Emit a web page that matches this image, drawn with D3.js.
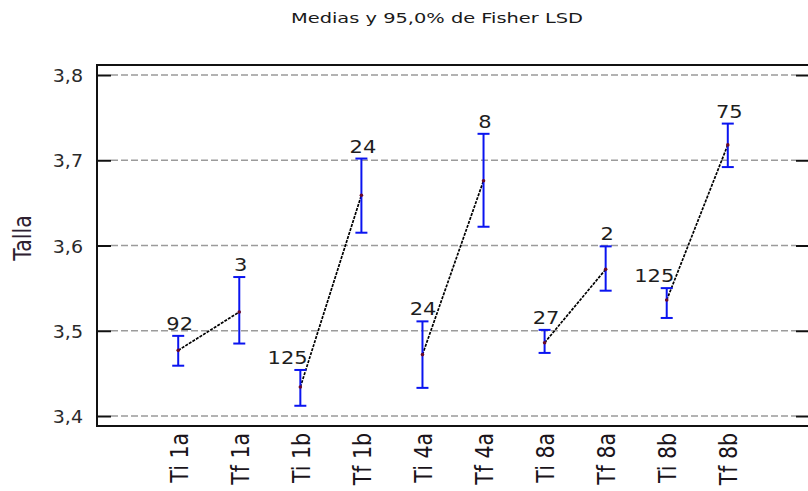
<!DOCTYPE html>
<html>
<head>
<meta charset="utf-8">
<script src="https://cdn.jsdelivr.net/npm/d3@7"></script>
<style>
  html, body { margin: 0; padding: 0; background: #fff; }
  svg { display: block; font-family: "DejaVu Sans", Verdana, sans-serif; }
</style>
</head>
<body>
<svg id="chart" width="808" height="491"></svg>
<script>
// Group means with 95% Fisher LSD intervals
const categories = ["Ti 1a", "Tf 1a", "Ti 1b", "Tf 1b", "Ti 4a", "Tf 4a", "Ti 8a", "Tf 8a", "Ti 8b", "Tf 8b"];
const means = [3.477, 3.522, 3.434, 3.659, 3.472, 3.676, 3.486, 3.572, 3.536, 3.718];
const lower = [3.459, 3.485, 3.412, 3.615, 3.433, 3.622, 3.474, 3.547, 3.515, 3.692];
const upper = [3.494, 3.563, 3.454, 3.702, 3.511, 3.731, 3.501, 3.599, 3.550, 3.743];
const counts = ["92", "3", "125", "24", "24", "8", "27", "2", "125", "75"];
const yTicks = [3.4, 3.5, 3.6, 3.7, 3.8];
const yTickLabels = ["3,4", "3,5", "3,6", "3,7", "3,8"];
const titleText = "Medias y 95,0% de Fisher LSD";
const yTitle = "Talla";

const svg = d3.select("#chart");
const frame = { left: 97, right: 809, top: 65, bottom: 426 };

const x = d3.scalePoint().domain(categories).range([frame.left, frame.right]).padding(1.33);
const y = d3.scaleLinear().domain([3.4, 3.8]).range([416, 75]);

// title
svg.append("text")
  .attr("x", 437).attr("y", 23)
  .attr("text-anchor", "middle")
  .attr("font-size", 13.5)
  .attr("fill", "#1a1a1a")
  .attr("textLength", 292)
  .attr("lengthAdjust", "spacingAndGlyphs")
  .text(titleText);

// dashed horizontal grid
svg.append("g").selectAll("line").data(yTicks).join("line")
  .attr("x1", frame.left + 14).attr("x2", frame.right - 13)
  .attr("y1", d => y(d)).attr("y2", d => y(d))
  .attr("stroke", "#9b9b9b").attr("stroke-width", 1.5)
  .attr("stroke-dasharray", "7,3");

// inward ticks on both sides
const leftAxis = svg.append("g").attr("transform", `translate(${frame.left},0)`)
  .call(d3.axisRight(y).tickValues(yTicks).tickSize(14).tickFormat(""));
const rightAxis = svg.append("g").attr("transform", `translate(${frame.right},0)`)
  .call(d3.axisLeft(y).tickValues(yTicks).tickSize(13).tickFormat(""));
[leftAxis, rightAxis].forEach(g => {
  g.select(".domain").remove();
  g.selectAll(".tick line").attr("stroke", "#111").attr("stroke-width", 2);
});

// y tick labels
svg.append("g").selectAll("text").data(yTicks).join("text")
  .attr("transform", d => `translate(83,${y(d) + 1}) scale(1.12,1)`)
  .attr("text-anchor", "end")
  .attr("dy", "0.36em")
  .attr("font-size", 17)
  .attr("fill", "#2a2a2a")
  .text((d, i) => yTickLabels[i]);

// y axis title
svg.append("text")
  .attr("transform", "translate(22,238) scale(1.2,1) rotate(-90)")
  .attr("text-anchor", "middle")
  .attr("dy", "0.36em")
  .attr("font-size", 20.5)
  .attr("fill", "#2e2030")
  .text(yTitle);

// frame
svg.append("path")
  .attr("d", `M${frame.right + 2},${frame.top}H${frame.left}V${frame.bottom}H${frame.right + 2}`)
  .attr("fill", "none").attr("stroke", "#111").attr("stroke-width", 2);

// category labels, rotated
const bottomAxis = svg.append("g").attr("transform", `translate(0,${frame.bottom})`)
  .call(d3.axisBottom(x).tickSize(0).tickPadding(0));
bottomAxis.select(".domain").remove();
bottomAxis.selectAll(".tick text")
  .attr("x", 0).attr("y", 0).attr("dy", "0.36em")
  .attr("transform", "translate(0,7) scale(1.2,1) rotate(-90)")
  .attr("text-anchor", "end")
  .attr("font-size", 20.5)
  .attr("font-family", "DejaVu Sans, Verdana, sans-serif")
  .attr("fill", "#1a141a");

const pts = categories.map((c, i) => ({ c, i, m: means[i], lo: lower[i], hi: upper[i], n: counts[i] }));

// connecting lines between initial and final of each group
const pairs = d3.range(0, pts.length, 2).map(i => [pts[i], pts[i + 1]]);
svg.append("g").selectAll("line").data(pairs).join("line")
  .attr("x1", d => x(d[0].c)).attr("y1", d => y(d[0].m))
  .attr("x2", d => x(d[1].c)).attr("y2", d => y(d[1].m))
  .attr("stroke", "#000").attr("stroke-width", 1.7)
  .attr("stroke-dasharray", "3,1.2");

// error bars
const eb = svg.append("g").attr("stroke", "#0a14f0").attr("stroke-width", 2);
eb.selectAll("line.v").data(pts).join("line").attr("class", "v")
  .attr("x1", d => x(d.c)).attr("x2", d => x(d.c))
  .attr("y1", d => y(d.lo)).attr("y2", d => y(d.hi));
eb.selectAll("line.t").data(pts).join("line").attr("class", "t")
  .attr("x1", d => x(d.c) - 6).attr("x2", d => x(d.c) + 6)
  .attr("y1", d => y(d.hi)).attr("y2", d => y(d.hi));
eb.selectAll("line.b").data(pts).join("line").attr("class", "b")
  .attr("x1", d => x(d.c) - 6).attr("x2", d => x(d.c) + 6)
  .attr("y1", d => y(d.lo)).attr("y2", d => y(d.lo));

// mean markers
svg.append("g").selectAll("circle").data(pts).join("circle")
  .attr("cx", d => x(d.c)).attr("cy", d => y(d.m)).attr("r", 1.8)
  .attr("fill", "#6a0a2a");

// count labels above each interval, nudged left when the connecting line runs through them
const fs = 17.5, sx = 1.2;
const lbl = svg.append("g").selectAll("text").data(pts).join("text")
  .attr("font-size", fs)
  .attr("fill", "#1e1e1e")
  .attr("text-anchor", "middle")
  .text(d => d.n);
lbl.each(function (d) {
  const w = this.getComputedTextLength() * sx;
  const base = y(d.hi) - 6;
  let cx = x(d.c) + 1.5;
  if (d.i % 2 === 0) {
    const a = pts[d.i], b = pts[d.i + 1];
    const midY = base - fs * 0.36;
    const ya = y(a.m), yb = y(b.m);
    if ((midY - ya) * (midY - yb) <= 0) {
      const lx = x(a.c) + (midY - ya) / (yb - ya) * (x(b.c) - x(a.c));
      if (cx + w / 2 > lx - 2) cx = Math.min(cx, lx - 2 - w / 2);
    }
  }
  d3.select(this).attr("transform", `translate(${cx},${base}) scale(${sx},1)`);
});
</script>
</body>
</html>
